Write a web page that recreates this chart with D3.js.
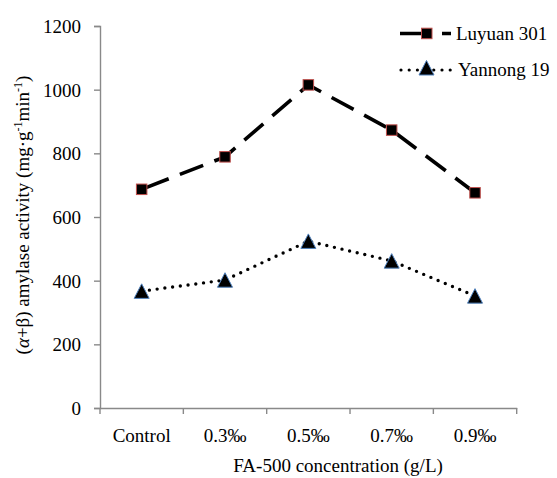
<!DOCTYPE html>
<html><head><meta charset="utf-8">
<script src="https://cdn.jsdelivr.net/npm/d3@7"></script>
</head><body style="margin:0">
<svg id="c" width="557" height="478" font-family="Liberation Serif"></svg>
<script>
const categories = ["Control","0.3‰","0.5‰","0.7‰","0.9‰"];
const luyuan = [687, 789, 1015, 873, 676];
const yannong = [367, 402, 524, 462, 352];
const yTicks = [0,200,400,600,800,1000,1200];

const FONT = "Liberation Serif";
const fs = 19;
const svg = d3.select("#c");
const x = d3.scaleBand().domain(categories).range([100, 516.7]);
const y = d3.scaleLinear().domain([0,1200]).range([408, 26]);
const axisCol = "#898989";

const ya = svg.append("g").attr("transform","translate(100,0)")
  .call(d3.axisLeft(y).tickValues(yTicks).tickSize(6).tickPadding(13).tickFormat(d3.format("d")));
const xa = svg.append("g").attr("transform","translate(0,408)")
  .call(d3.axisBottom(x).tickSize(0).tickPadding(21));
[ya,xa].forEach(g=>{
  g.attr("font-family",FONT).attr("font-size",fs);
  g.selectAll("path.domain").attr("stroke",axisCol).attr("stroke-width",1.4);
  g.selectAll(".tick line").attr("stroke",axisCol).attr("stroke-width",1.4);
  g.selectAll("text").attr("font-size",fs).attr("font-family",FONT).attr("fill","#000");
});
ya.selectAll("text").attr("dy","0.34em");
const bounds = categories.map(c=>x(c)).concat([x.range()[1]]);
svg.append("g").selectAll("line").data(bounds).join("line")
  .attr("x1",d=>d).attr("x2",d=>d).attr("y1",408).attr("y2",414)
  .attr("stroke",axisCol).attr("stroke-width",1.4);

const cx = c => x(c) + x.bandwidth()/2;
const line = d3.line().x((d,i)=>cx(categories[i])).y(d=>y(d));

svg.append("path").datum(luyuan).attr("d",line).attr("fill","none")
  .attr("stroke","#000").attr("stroke-width",3.6).attr("stroke-dasharray","25,12").attr("stroke-dashoffset",-4);
svg.append("path").datum(yannong).attr("d",line).attr("fill","none")
  .attr("stroke","#000").attr("stroke-width",3.4).attr("stroke-linecap","round").attr("stroke-dasharray","0,7.8");

const sq = 10.5;
const triPath = "M0,-8L7.5,6.5L-7.5,6.5Z";
svg.append("g").selectAll("rect").data(luyuan).join("rect")
  .attr("x",(d,i)=>cx(categories[i])-sq/2).attr("y",d=>y(d)-sq/2)
  .attr("width",sq).attr("height",sq).attr("fill","#000").attr("stroke","#c0504d").attr("stroke-width",1);
svg.append("g").selectAll("path").data(yannong).join("path")
  .attr("d",triPath).attr("transform",(d,i)=>`translate(${cx(categories[i])},${y(d)+0.7})`)
  .attr("fill","#000").attr("stroke","#4f81bd").attr("stroke-width",1);

// legend
const lg = svg.append("g");
lg.append("line").attr("x1",400).attr("x2",451).attr("y1",33.5).attr("y2",33.5)
  .attr("stroke","#000").attr("stroke-width",3.6).attr("stroke-dasharray","31,11,9");
lg.append("rect").attr("x",421.5).attr("y",28.2).attr("width",sq).attr("height",sq)
  .attr("fill","#000").attr("stroke","#c0504d");
lg.append("text").attr("x",456).attr("y",40).attr("font-size",fs).attr("font-family",FONT).text("Luyuan 301");
lg.append("line").attr("x1",401).attr("x2",451).attr("y1",70).attr("y2",70)
  .attr("stroke","#000").attr("stroke-width",3.2).attr("stroke-linecap","round").attr("stroke-dasharray","0,8.2");
lg.append("path").attr("d",triPath).attr("transform","translate(426.5,68.5)")
  .attr("fill","#000").attr("stroke","#4f81bd");
lg.append("text").attr("x",458).attr("y",76).attr("font-size",fs).attr("font-family",FONT).text("Yannong 19");

svg.append("text").attr("x",338).attr("y",472).attr("text-anchor","middle")
  .attr("font-size",fs).attr("font-family",FONT).text("FA-500 concentration (g/L)");
const yt = svg.append("text").attr("transform","translate(29,215) rotate(-90)").attr("text-anchor","middle")
  .attr("font-size",fs).attr("font-family",FONT);
yt.append("tspan").text("(");
yt.append("tspan").attr("font-style","italic").text("α");
yt.append("tspan").text("+β) amylase activity (mg·g");
yt.append("tspan").attr("dy",-7).attr("font-size",12).text("-1");
yt.append("tspan").attr("dy",7).text("min");
yt.append("tspan").attr("dy",-7).attr("font-size",12).text("-1");
yt.append("tspan").attr("dy",7).text(")");
</script>
</body></html>
